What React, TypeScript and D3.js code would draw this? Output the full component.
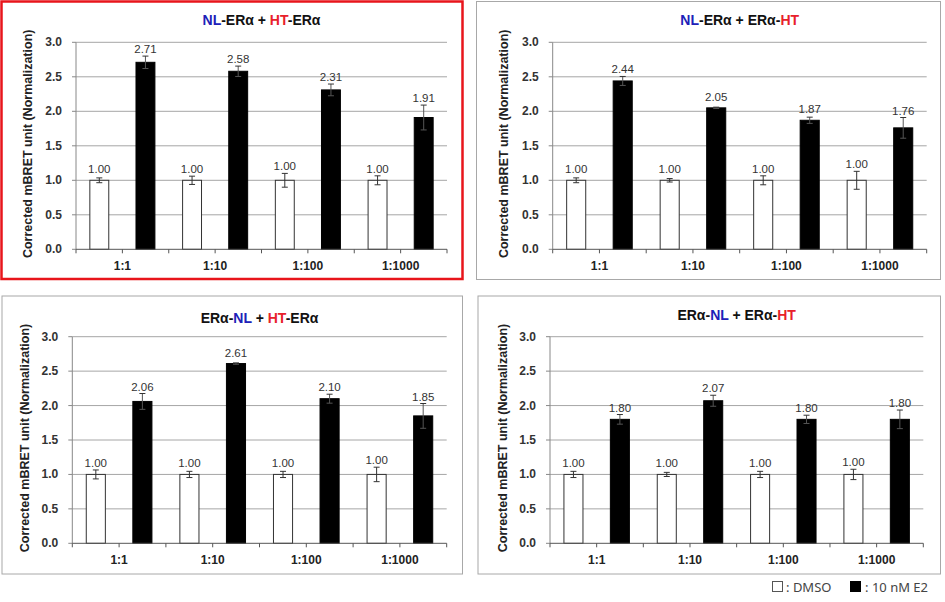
import React from "react";
import * as d3 from "d3";

const categories = ["1:1", "1:10", "1:100", "1:1000"];
const seriesKeys = ["DMSO", "10 nM E2"];
const yTicks = [0, 0.5, 1.0, 1.5, 2.0, 2.5, 3.0];
const yLabel = "Corrected mBRET unit (Normalization)";

// Titles: [text, role] where role: "nl" | "ht" | ""
const title1: [string, string][] = [["NL", "nl"], ["-ERα + ", ""], ["HT", "ht"], ["-ERα", ""]];
const title2: [string, string][] = [["NL", "nl"], ["-ERα + ERα-", ""], ["HT", "ht"]];
const title3: [string, string][] = [["ERα-", ""], ["NL", "nl"], [" + ", ""], ["HT", "ht"], ["-ERα", ""]];
const title4: [string, string][] = [["ERα-", ""], ["NL", "nl"], [" + ERα-", ""], ["HT", "ht"]];

const p1Dmso = [1.0, 1.0, 1.0, 1.0];
const p1E2 = [2.71, 2.58, 2.31, 1.91];
const p1DmsoErr = [0.035, 0.06, 0.1, 0.065];
const p1E2Err = [0.09, 0.075, 0.085, 0.18];

const p2Dmso = [1.0, 1.0, 1.0, 1.0];
const p2E2 = [2.44, 2.05, 1.87, 1.76];
const p2DmsoErr = [0.035, 0.025, 0.065, 0.13];
const p2E2Err = [0.065, 0.01, 0.045, 0.15];

const p3Dmso = [1.0, 1.0, 1.0, 1.0];
const p3E2 = [2.06, 2.61, 2.1, 1.85];
const p3DmsoErr = [0.065, 0.045, 0.045, 0.105];
const p3E2Err = [0.115, 0.01, 0.065, 0.18];

const p4Dmso = [1.0, 1.0, 1.0, 1.0];
const p4E2 = [1.8, 2.07, 1.8, 1.8];
const p4DmsoErr = [0.045, 0.03, 0.045, 0.075];
const p4E2Err = [0.07, 0.08, 0.06, 0.135];

const roleColor: Record<string, string> = { nl: "#2020b8", ht: "#e8202a", "": "#111" };
const FONT = "Arial, 'Liberation Sans', sans-serif";

type Layout = {
  fx: number; fy: number; fw: number; fh: number; frame: string; frameW: number;
  left: number; right: number; top: number; bottom: number;
  titleY: number; labelX: number; catY: number;
};

const layouts: Layout[] = [
  { fx: 1.5, fy: 1.5, fw: 461, fh: 277.5, frame: "#e8151b", frameW: 2.5, left: 76, right: 447, top: 42.3, bottom: 249.3, titleY: 25, labelX: 32, catY: 270 },
  { fx: 476.5, fy: 1.5, fw: 464, fh: 278, frame: "#a8a8a8", frameW: 1, left: 552.7, right: 926.7, top: 42.3, bottom: 249.3, titleY: 25, labelX: 508, catY: 270 },
  { fx: 2, fy: 296, fw: 460.5, fh: 278, frame: "#a8a8a8", frameW: 1, left: 72.3, right: 446.7, top: 336.7, bottom: 543.3, titleY: 323, labelX: 29, catY: 564 },
  { fx: 478, fy: 296, fw: 462.5, fh: 278, frame: "#a8a8a8", frameW: 1, left: 550, right: 923.3, top: 336.7, bottom: 543.3, titleY: 320, labelX: 507, catY: 564 },
];

const panels = [
  { title: title1, dmso: p1Dmso, e2: p1E2, dErr: p1DmsoErr, eErr: p1E2Err },
  { title: title2, dmso: p2Dmso, e2: p2E2, dErr: p2DmsoErr, eErr: p2E2Err },
  { title: title3, dmso: p3Dmso, e2: p3E2, dErr: p3DmsoErr, eErr: p3E2Err },
  { title: title4, dmso: p4Dmso, e2: p4E2, dErr: p4DmsoErr, eErr: p4E2Err },
];

function Panel({ L, p }: { L: Layout; p: (typeof panels)[number] }) {
  const y = d3.scaleLinear().domain([0, 3]).range([L.bottom, L.top]);
  const x0 = d3.scaleBand<string>().domain(categories).range([L.left, L.right]).padding(0);
  const x1 = d3
    .scaleBand<string>()
    .domain(seriesKeys)
    .range([0, x0.bandwidth()])
    .paddingInner(0.59)
    .paddingOuter(0.3);
  const bw = x1.bandwidth();
  const cx = (L.left + L.right) / 2;
  const cy = (L.top + L.bottom) / 2 - 2;
  const xTicks: number[] = [];
  categories.forEach((c) => {
    xTicks.push(x0(c)!);
    xTicks.push(x0(c)! + x0.bandwidth() / 2);
  });
  xTicks.push(L.right);

  const bars: { key: string; cat: string; v: number; e: number }[] = [];
  categories.forEach((c, i) => {
    bars.push({ key: seriesKeys[0], cat: c, v: p.dmso[i], e: p.dErr[i] });
    bars.push({ key: seriesKeys[1], cat: c, v: p.e2[i], e: p.eErr[i] });
  });

  return (
    <g>
      <rect x={L.fx} y={L.fy} width={L.fw} height={L.fh} fill="#fff" stroke={L.frame} strokeWidth={L.frameW} />
      <text x={cx} y={L.titleY} textAnchor="middle" fontFamily={FONT} fontWeight="bold" fontSize={14}>
        {p.title.map(([t, r], i) => (
          <tspan key={i} fill={roleColor[r]}>{t}</tspan>
        ))}
      </text>
      {yTicks.map((t) => (
        <g key={t}>
          {t > 0 && <line x1={L.left} x2={L.right} y1={y(t)} y2={y(t)} stroke="#a6a6a6" strokeWidth={1} />}
          <line x1={L.left - 4} x2={L.left} y1={y(t)} y2={y(t)} stroke="#888" strokeWidth={1} />
          <text x={L.left - 14} y={y(t) + 4} textAnchor="end" fontFamily={FONT} fontWeight="bold" fontSize={12} fill="#333">
            {t.toFixed(1)}
          </text>
        </g>
      ))}
      <line x1={L.left} x2={L.left} y1={L.top} y2={L.bottom} stroke="#888" strokeWidth={1} />
      <text
        transform={`translate(${L.labelX},${cy}) rotate(-90)`}
        textAnchor="middle"
        fontFamily={FONT}
        fontWeight="bold"
        fontSize={12.5}
        fill="#222"
      >
        {yLabel}
      </text>
      {bars.map((b, i) => {
        const bx = x0(b.cat)! + x1(b.key)!;
        const mid = bx + bw / 2;
        const top = y(b.v);
        const eTop = y(b.v + b.e);
        const eBot = y(b.v - b.e);
        const labY = Math.min(top - 7, eTop - 3);
        const isE2 = b.key === seriesKeys[1];
        return (
          <g key={i}>
            <rect
              x={bx}
              y={top}
              width={bw}
              height={L.bottom - top}
              fill={isE2 ? "#000" : "#fff"}
              stroke={isE2 ? "#000" : "#333"}
              strokeWidth={1}
            />
            <line x1={mid} x2={mid} y1={eTop} y2={eBot} stroke={isE2 ? "#555" : "#333"} strokeWidth={1} />
            <line x1={mid - 3} x2={mid + 3} y1={eTop} y2={eTop} stroke="#333" strokeWidth={1} />
            <line x1={mid - 3} x2={mid + 3} y1={eBot} y2={eBot} stroke={isE2 ? "#555" : "#333"} strokeWidth={1} />
            <text x={mid} y={labY} textAnchor="middle" fontFamily={FONT} fontSize={11.5} fill="#333">
              {b.v.toFixed(2)}
            </text>
          </g>
        );
      })}
      <line x1={L.left} x2={L.right} y1={L.bottom} y2={L.bottom} stroke="#555" strokeWidth={1} />
      {xTicks.map((t, i) => (
        <line key={i} x1={t} x2={t} y1={L.bottom} y2={L.bottom + 4} stroke="#555" strokeWidth={1} />
      ))}
      {categories.map((c) => (
        <text
          key={c}
          x={x0(c)! + x0.bandwidth() / 2}
          y={L.catY}
          textAnchor="middle"
          fontFamily={FONT}
          fontWeight="bold"
          fontSize={12}
          fill="#222"
        >
          {c}
        </text>
      ))}
    </g>
  );
}

export default function App() {
  return (
    <svg
      width={945}
      height={602}
      style={{ position: "absolute", left: 0, top: 0, background: "#fff" }}
    >
      <rect x={0} y={0} width={945} height={602} fill="#fff" />
      {panels.map((p, i) => (
        <Panel key={i} L={layouts[i]} p={p} />
      ))}
      <g fontFamily="'Noto Sans', 'Open Sans', sans-serif" fontSize={13} fill="#444">
        <rect x={772.5} y={581.5} width={10} height={10} fill="#fff" stroke="#555" strokeWidth={1} />
        <text x={786} y={592}>: {seriesKeys[0]}</text>
        <rect x={850} y={581} width={11} height={11} fill="#000" />
        <text x={865} y={592}>: {seriesKeys[1]}</text>
      </g>
    </svg>
  );
}
